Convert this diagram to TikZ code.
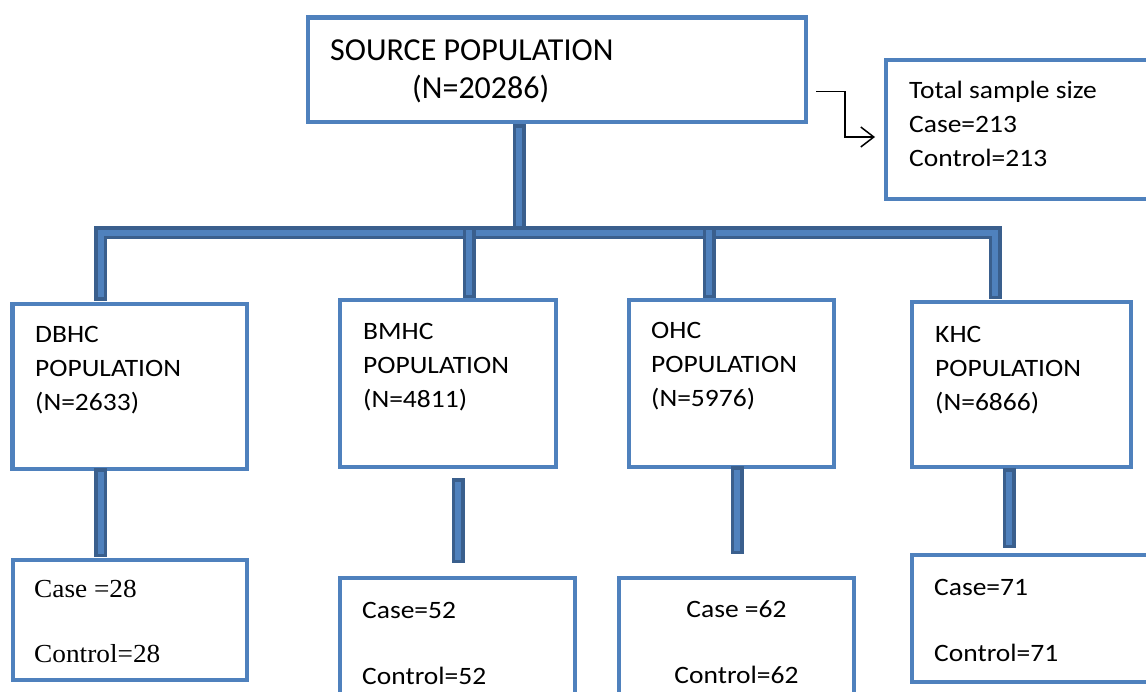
\documentclass[tikz,border=0pt]{standalone}
\usepackage{fontspec}
\setmainfont{Carlito}
\newfontfamily\widefont{Carlito}[FakeStretch=1.1]
\newfontfamily\widetimes{Liberation Serif}[FakeStretch=1.05]
\usepackage{xcolor}
\usetikzlibrary{arrows.meta,positioning}
\definecolor{boxblue}{HTML}{4F81BD}
\definecolor{bardark}{HTML}{3A5F8D}

\begin{document}
\begin{tikzpicture}[x=1pt,y=-1pt,>={Straight Barb[length=13pt,width=20pt]},
  box/.style={draw=boxblue, line width=4.5pt, outer sep=0pt, inner sep=0pt, anchor=north west},
  txt/.style={anchor=base west, align=left, inner sep=0pt, font=\widefont\fontsize{25}{34}\selectfont},
  pair/.style={txt, font=\widefont\fontsize{25}{66}\selectfont},
  bar/.style={draw=bardark, line width=3.5pt, double=boxblue, double distance=6pt, line cap=rect},
  arr/.style={->, draw=black, line width=1.5pt}]
    \useasboundingbox (0,0) rectangle (1146,692);
    \clip (0,0) rectangle (1146,692);
    % boxes
    \node [box, minimum width=498pt, minimum height=104.5pt] (src) at (308,17.5) {};
    \node [box, minimum width=280pt, minimum height=139pt] (tot) at (886,60) {};
    \node [box, minimum width=234.5pt, minimum height=165pt] (dbhc) at (12.5,304) {};
    \node [box, minimum width=216pt, minimum height=167pt] (bmhc) at (340,300) {};
    \node [box, minimum width=205pt, minimum height=167pt] (ohc) at (629,300) {};
    \node [box, minimum width=219pt, minimum height=165pt] (khc) at (912,302) {};
    \node [box, minimum width=234pt, minimum height=120pt] (dbhcS) at (13,560) {};
    \node [box, minimum width=235pt, minimum height=140pt] (bmhcS) at (340,578) {};
    \node [box, minimum width=235pt, minimum height=140pt] (ohcS) at (619,578) {};
    \node [box, minimum width=260pt, minimum height=127pt] (khcS) at (912,555) {};
    % texts (base = last line)
    \node [txt, font=\fontsize{32}{38}\selectfont] (srcT) at ([shift={(22,81.5)}]src.north west) {SOURCE POPULATION\\\hspace*{82pt}(N=20286)};
    \node [txt] (totT) at ([shift={(23,107)}]tot.north west) {Total sample size\\Case=213\\Control=213};
    \node [txt] (dbhcT) at ([shift={(22.5,106)}]dbhc.north west) {DBHC\\POPULATION\\(N=2633)};
    \node [txt] (bmhcT) at ([shift={(23,108)}]bmhc.north west) {BMHC\\POPULATION\\(N=4811)};
    \node [txt] (ohcT) at ([shift={(22,106.5)}]ohc.north west) {OHC\\POPULATION\\(N=5976)};
    \node [txt] (khcT) at ([shift={(23,108)}]khc.north west) {KHC\\POPULATION\\(N=6866)};
    \node [pair, font=\widetimes\fontsize{26}{65}\selectfont] (dbhcST) at ([shift={(21,102)}]dbhcS.north west) {Case =28\\Control=28};
    \node [pair] (bmhcST) at ([shift={(22,106)}]bmhcS.north west) {Case=52\\Control=52};
    \node [pair, anchor=base, align=center] (ohcST) at ([yshift=-105pt]ohcS.north) {Case =62\\Control=62};
    \node [pair] (khcST) at ([shift={(22,106)}]khcS.north west) {Case=71\\Control=71};
    % connectors
    \coordinate (bus) at ([shift={(-38,111)}]src.south);
    \coordinate (dD) at ([xshift=-29pt]dbhc.north);
    \coordinate (dB) at ([xshift=21pt]bmhc.north);
    \coordinate (dO) at ([xshift=-22.5pt]ohc.north);
    \coordinate (dK) at ([xshift=-26.5pt]khc.north);
    \draw [bar, shorten <=9pt] (src.south -| bus) -- (bus);
    \draw [bar, shorten <=9.5pt, shorten >=9pt] (dD) |- (bus) -| (dK);
    \draw [bar, shorten <=8pt] (dB) -- (dB |- bus);
    \draw [bar, shorten <=8pt] (dO) -- (dO |- bus);
    \draw [bar, shorten <=5.5pt, shorten >=9.5pt] ([xshift=-29pt]dbhc.south) -- ([xshift=-29pt]dbhc.south |- dbhcS.north);
    \draw [bar, shorten <=17.5pt, shorten >=21.5pt] ([xshift=10pt]bmhc.south) -- ([xshift=10pt]bmhc.south |- bmhcS.north);
    \draw [bar, shorten <=5.5pt, shorten >=30.5pt] ([xshift=5.5pt]ohc.south) -- ([xshift=5.5pt]ohc.south |- ohcS.north);
    \draw [bar, shorten <=7.5pt, shorten >=13.5pt] ([xshift=-12.5pt]khc.south) -- ([xshift=-12.5pt]khc.south |- khcS.north);
    \draw [arr, shorten <=10pt, shorten >=11pt] ([yshift=-22pt]src.east) -- ++(39,0) |- ([yshift=-7.5pt]tot.west);
\end{tikzpicture}
\end{document}
